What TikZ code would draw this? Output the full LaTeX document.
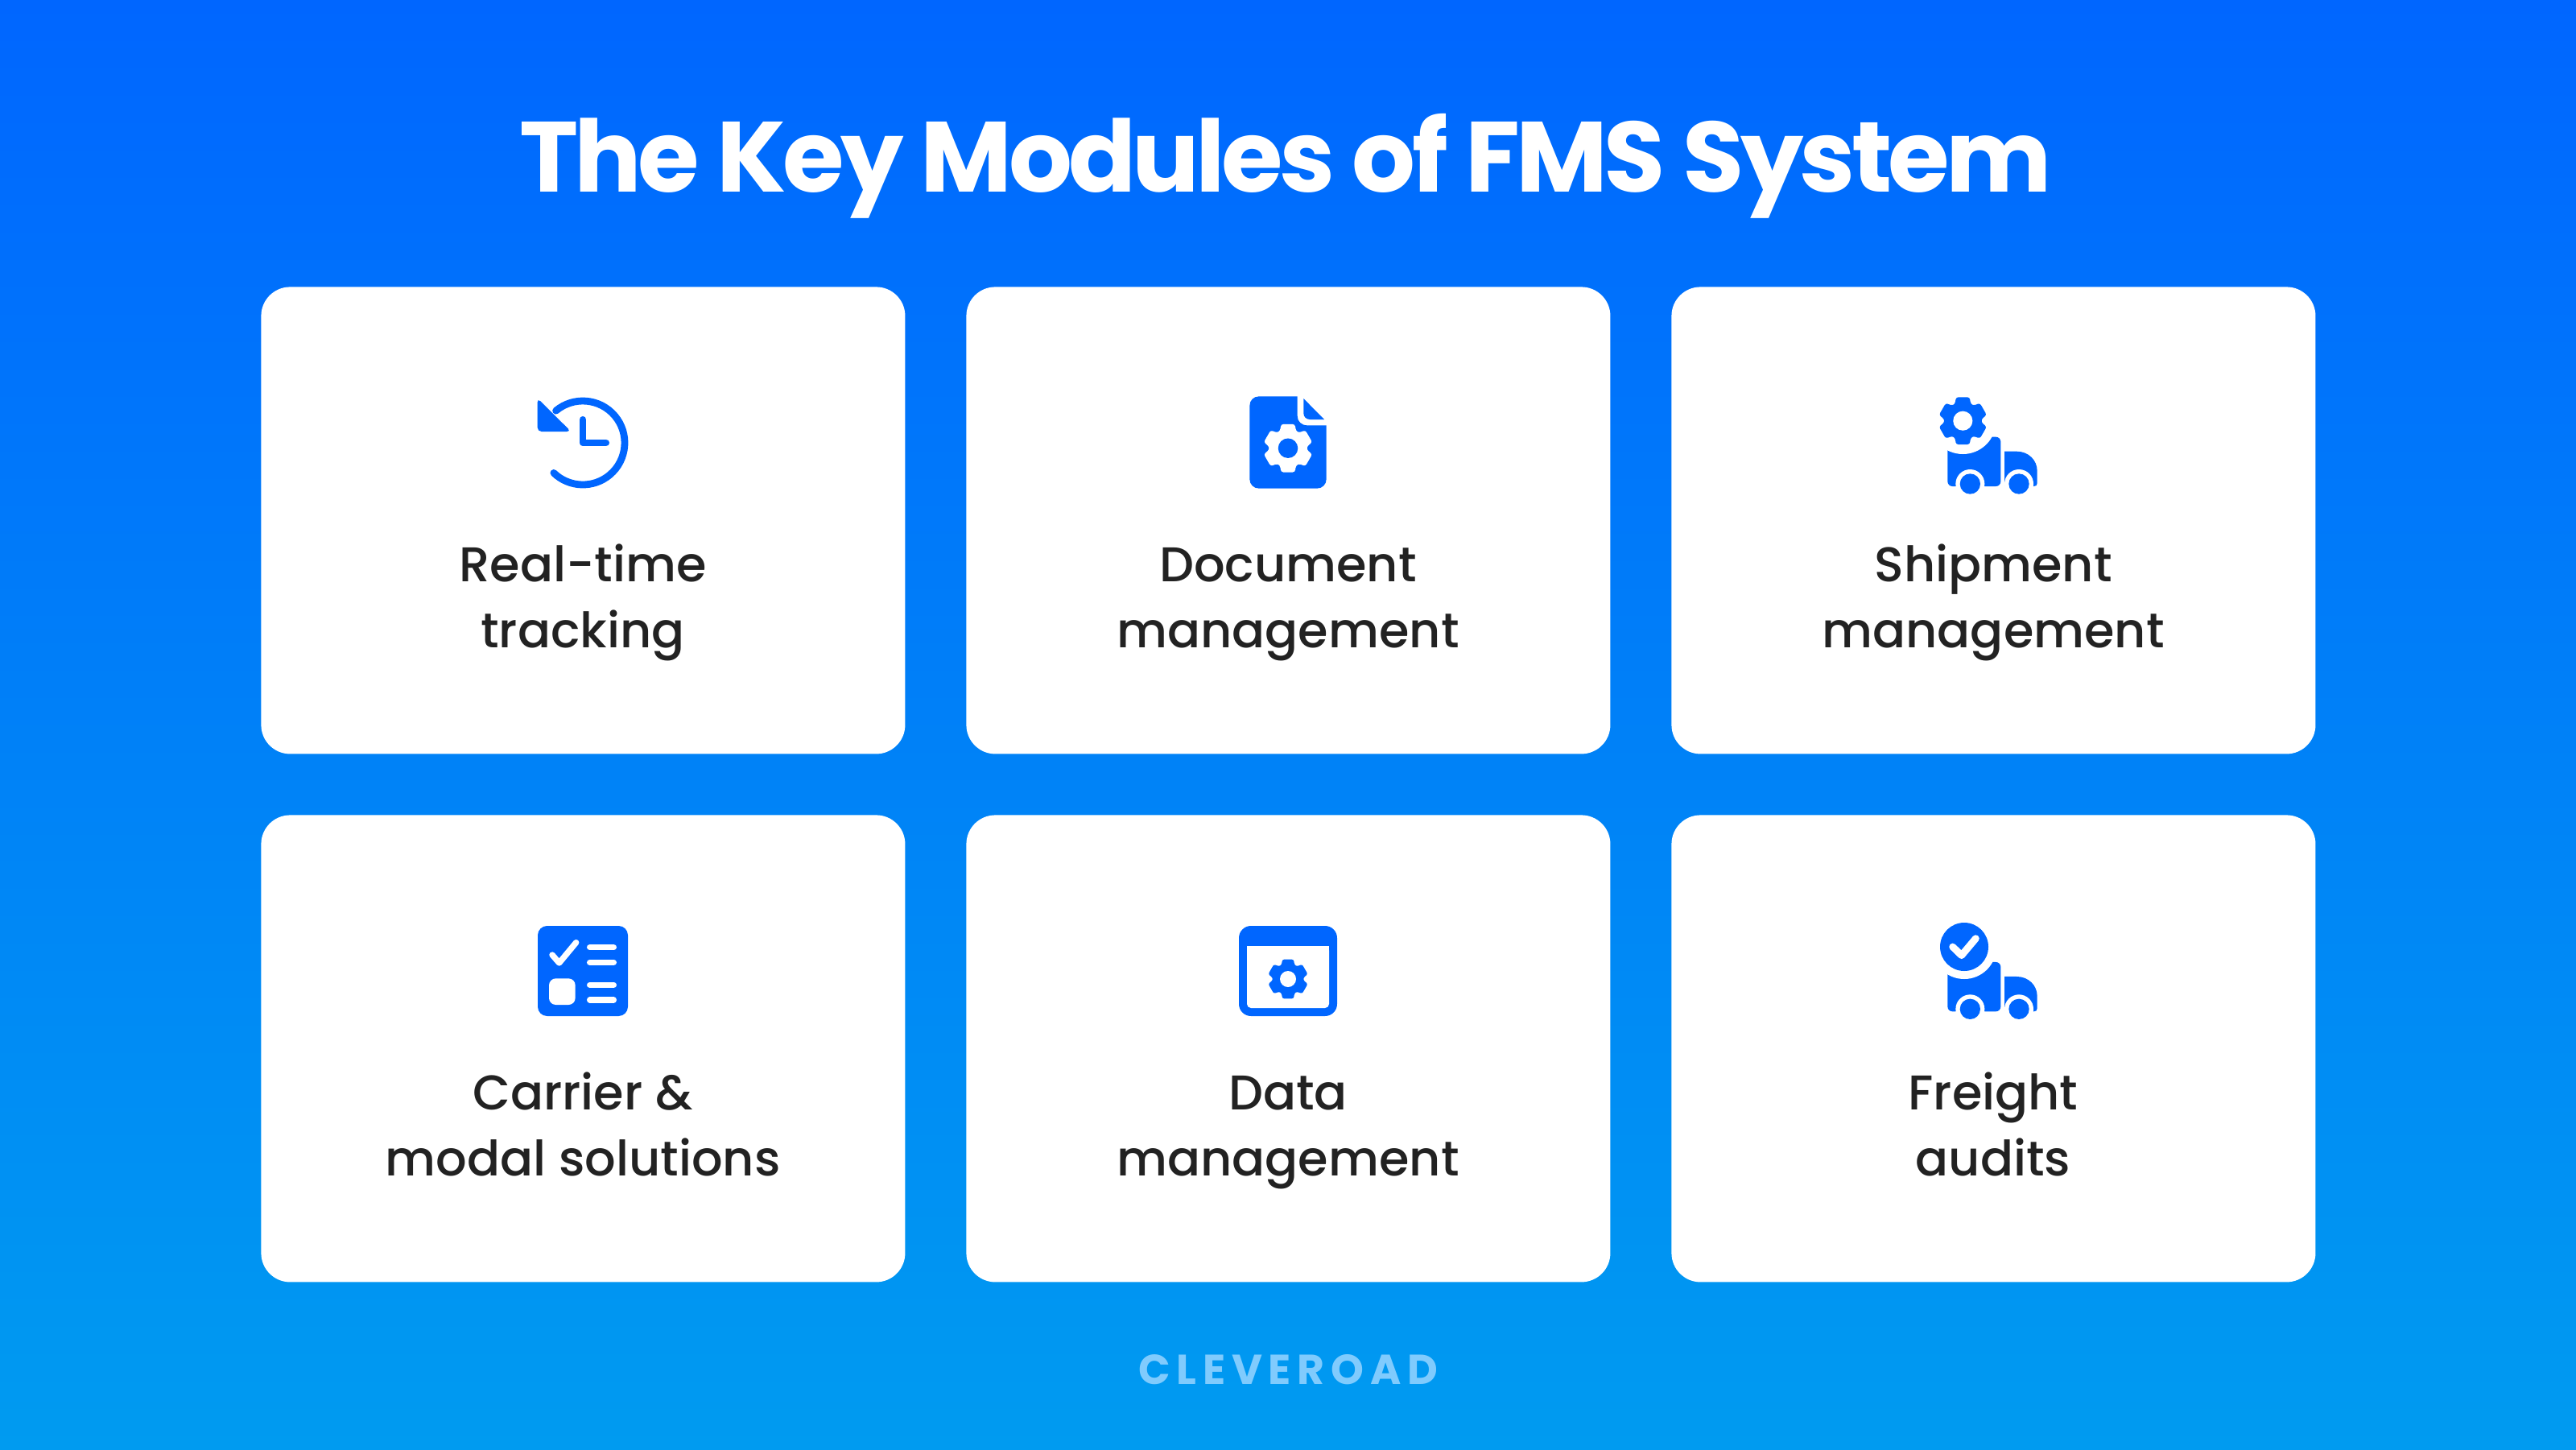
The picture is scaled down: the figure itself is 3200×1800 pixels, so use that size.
\documentclass[tikz,border=0pt]{standalone}
\usepackage{fontspec}
\setmainfont{Poppins}[UprightFont=* Medium,BoldFont=* SemiBold]
\newfontfamily\logofont{Poppins}[UprightFont=* Bold,LetterSpace=15]
\newfontfamily\titlefont{Poppins}[UprightFont=* Bold,LetterSpace=-3.8]
\definecolor{iconblue}{HTML}{0066FF}
\definecolor{bgtop}{HTML}{0066FF}
\definecolor{bgbot}{HTML}{009BF0}
\definecolor{labelink}{HTML}{222222}
\definecolor{logoink}{HTML}{80CBFD}
\newcommand\twolines[2]{\strut #1\\#2\strut}
\tikzset{
  x=0.5pt,y=-0.5pt,
  card/.style={fill=white,rounded corners=18pt,minimum width=400pt,minimum height=290pt,inner sep=0pt,anchor=north west},
  cardtext/.style={text=labelink,font=\fontsize{30.3}{41}\selectfont,align=center,anchor=center,inner sep=0pt},
}
% gear: cx cy R gearcolour holecolour
\newcommand\geartoothed[5]{%
  \begin{scope}[shift={(#1,#2)},scale=#3]
    \fill[#4,rounded corners=#3*0.045pt] (0:.76)
      \foreach \a in {30,90,...,330} { -- (\a-25:.76) -- (\a-16:1) -- (\a+16:1) -- (\a+25:.76) } -- cycle;
    \fill[#5] (0,0) circle[radius=.395];
  \end{scope}}
% truck body in zoom units
\newcommand\truckbody[2]{%
  \begin{scope}[shift={(#1,#2)},scale=1/3]
    \fill[iconblue,rounded corners=3pt] (118,402) -- (118,218) -- (316,218) -- (316,402) -- cycle;
    \fill[iconblue] (330,395) -- (330,272) -- (375,272) .. controls (420,272) and (452,305) .. (452,345) -- (452,390) .. controls (452,398) and (448,402) .. (440,402) -- (340,402) .. controls (334,402) and (330,400) .. (330,395) -- cycle;
  \end{scope}}
\newcommand\truckwheels[2]{%
  \begin{scope}[shift={(#1,#2)},scale=1/3]
    \fill[white] (202,393) circle[radius=54] (384,393) circle[radius=54];
    \fill[white] (148,402) rectangle (256,440) (330,402) rectangle (438,440);
    \fill[iconblue] (202,393) circle[radius=38] (384,393) circle[radius=38];
  \end{scope}}
\begin{document}
\begin{tikzpicture}
\shade[top color=bgtop,bottom color=bgbot,shading angle=0] (0,0) rectangle (3200,1800);
\useasboundingbox (0,0) rectangle (3200,1800);

\node[text=white,font=\titlefont\fontsize{62}{70}\selectfont,inner sep=0pt] (title) at (1597,206) {The Key Modules of FMS System};

\node[card] (c1) at (324,356) {};
\node[card] (c2) at (1200,356) {};
\node[card] (c3) at (2076,356) {};
\node[card] (c4) at (324,1012) {};
\node[card] (c5) at (1200,1012) {};
\node[card] (c6) at (2076,1012) {};

\node[cardtext] (t1) at (724,747) {\twolines{Real-time}{tracking}};
\node[cardtext] (t2) at (1600,747) {\twolines{Document}{management}};
\node[cardtext] (t3) at (2476,747) {\twolines{Shipment}{management}};
\node[cardtext] (t4) at (724,1403) {\twolines{Carrier \&}{modal solutions}};
\node[cardtext] (t5) at (1600,1403) {\twolines{Data}{management}};
\node[cardtext] (t6) at (2476,1403) {\twolines{Freight}{audits}};

\node[text=logoink,font=\logofont\fontsize{26}{30}\selectfont,inner sep=0pt] (logo) at (1600,1701) {CLEVEROAD};

% icon 1: clock with return arrow
\begin{scope}[shift={(620,460)},scale=1/3]
  \draw[iconblue,line width=4.4pt,line cap=round] (312,270) ++(-130:156) arc[start angle=-130,end angle=134,radius=156];
  \draw[iconblue,line width=4.4pt,line cap=round,line join=round] (312,184) -- (312,270) -- (398,270);
  \fill[iconblue,rounded corners=2.5pt] (143,104) -- (268,228) -- (143,228) -- cycle;
\end{scope}

% icon 2: document with gear
\begin{scope}[shift={(1500,460)},scale=1/3]
  \fill[iconblue] (190,97) -- (335,97) -- (335,170) .. controls (335,190) and (350,205) .. (372,205) -- (443,205) -- (443,405) .. controls (443,425) and (428,440) .. (408,440) -- (192,440) .. controls (172,440) and (157,425) .. (157,405) -- (157,132) .. controls (157,112) and (172,97) .. (192,97) -- cycle;
  \fill[iconblue] (358,105) -- (435,183) -- (382,183) .. controls (368,183) and (358,173) .. (358,160) -- cycle;
\end{scope}
\geartoothed{1600}{556.7}{31}{white}{iconblue}

% icon 3: truck with gear
\truckbody{2380}{470}
\fill[white] (2438.3,522.7) circle[radius=41.3];
\truckwheels{2380}{470}
\geartoothed{2438.3}{522.7}{30.5}{iconblue}{white}

% icon 4: checklist
\begin{scope}[shift={(620,1120)},scale=1/3]
  \fill[iconblue,rounded corners=5.8pt] (144,90) rectangle (480,426);
  \fill[white,rounded corners=4.2pt] (186,286) rectangle (284,384);
  \draw[white,line width=3.7pt,line cap=round,line join=round] (198,198) -- (224,228) -- (287,152);
  \draw[white,line width=3.7pt,line cap=round] (338,170) -- (427,170) (338,226) -- (427,226) (338,310) -- (427,310) (338,366) -- (427,366);
\end{scope}

% icon 5: window with gear
\begin{scope}[shift={(1500,1120)},scale=1/3]
  \fill[iconblue,rounded corners=7.5pt] (117,90) rectangle (483,426);
  \fill[white,rounded corners=2.5pt] (147,166) -- (147,396) -- (453,396) -- (453,166) -- cycle;
  \fill[white] (147,166) rectangle (453,200);
\end{scope}
\geartoothed{1600}{1216}{25.3}{iconblue}{white}

% icon 6: truck with check badge
\truckbody{2380}{1122.3}
\fill[white] (2440,1176) circle[radius=40];
\truckwheels{2380}{1122.3}
\fill[iconblue] (2440,1176) circle[radius=30];
\begin{scope}[shift={(2380,1125)},scale=1/3]
  \draw[white,line width=4.4pt,line cap=round,line join=round] (137,153) -- (170,185) -- (223,122);
\end{scope}
\end{tikzpicture}
\end{document}
